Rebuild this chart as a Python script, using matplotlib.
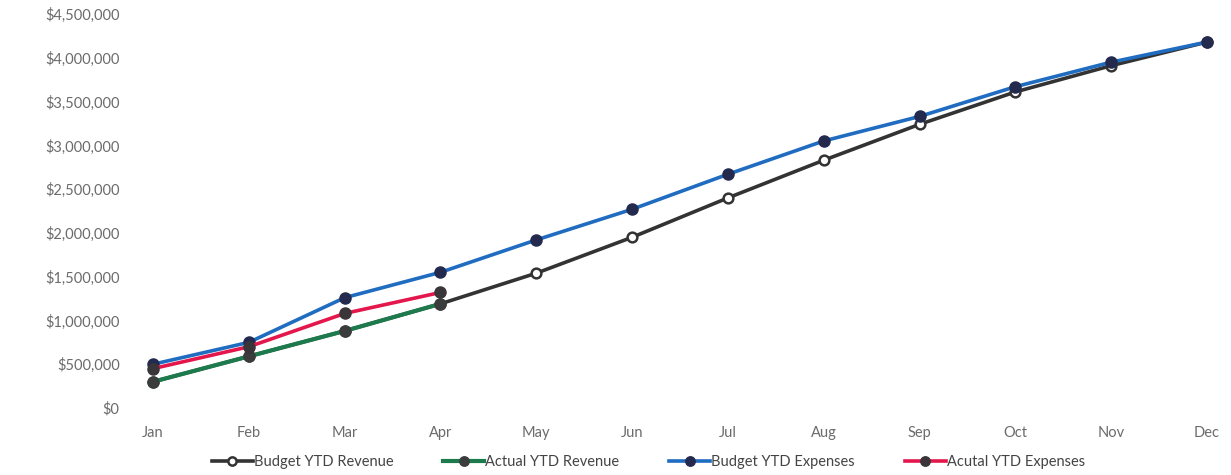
import numpy as np
import matplotlib.pyplot as plt
from matplotlib.ticker import FuncFormatter

plt.rcParams['font.family'] = ['Lato', 'DejaVu Sans']

months = ['Jan', 'Feb', 'Mar', 'Apr', 'May', 'Jun', 'Jul', 'Aug', 'Sep', 'Oct', 'Nov', 'Dec']
budget_rev = [300000, 590000, 880000, 1190000, 1540000, 1950000, 2400000, 2830000,
              3240000, 3610000, 3910000, 4180000]
actual_rev = [300000, 590000, 880000, 1190000]
budget_exp = [500000, 750000, 1260000, 1550000, 1920000, 2270000, 2670000, 3050000,
              3330000, 3670000, 3950000, 4180000]
actual_exp = [450000, 700000, 1080000, 1320000]

fig = plt.figure(figsize=(12.31, 4.75), dpi=100)
ax = fig.add_axes([0.1243, 0.141, 0.8562, 0.8295])

x = np.arange(len(months))
lw = 2.6
ax.plot(x, budget_rev, color='#333333', lw=lw, marker='o', ms=7,
        mfc='white', mec='#333333', mew=1.8, label='Budget YTD Revenue', clip_on=False)
ax.plot(x[:4], actual_rev, color='#1d7a4c', lw=lw + 0.4, marker='o', ms=8,
        mfc='#3a3d3c', mec='#3a3d3c', label='Actual YTD Revenue', clip_on=False)
ax.plot(x, budget_exp, color='#1f6cc0', lw=lw, marker='o', ms=8,
        mfc='#232a4e', mec='#232a4e', label='Budget YTD Expenses', clip_on=False)
ax.plot(x[:4], actual_exp, color='#e3174b', lw=lw, marker='o', ms=8,
        mfc='#3a3538', mec='#3a3538', label='Acutal YTD Expenses', clip_on=False)

ax.set_xlim(0, 11)
ax.set_ylim(0, 4500000)
ax.set_yticks(np.arange(0, 4500001, 500000))
ax.yaxis.set_major_formatter(FuncFormatter(lambda v, p: '${:,.0f}'.format(v)))
ax.set_xticks(x)
ax.set_xticklabels(months)

for s in ax.spines.values():
    s.set_visible(False)
ax.tick_params(length=0, colors='#6b6b6b', labelsize=10.5)
ax.tick_params(axis='y', pad=24)
ax.tick_params(axis='x', pad=13)

ax.legend(loc='upper center', bbox_to_anchor=(0.47, -0.085), ncol=4, frameon=False,
          fontsize=10.5, handlelength=2.8, handletextpad=0.1, columnspacing=3.4,
          labelcolor='#444444', markerscale=0.85)

fig.savefig('out.png', dpi=100)
